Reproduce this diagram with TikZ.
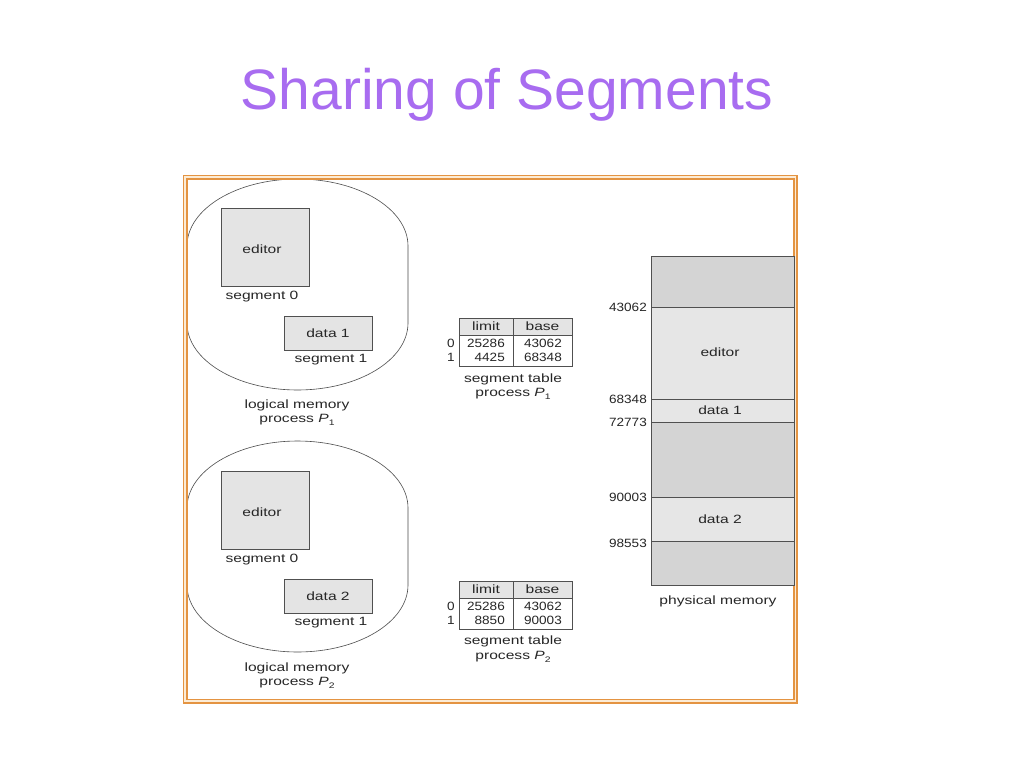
\documentclass[tikz,border=0pt]{standalone}
\usepackage{fontspec}
\setmainfont{Liberation Sans}
\newfontfamily\lab[FakeStretch=1.3]{Liberation Sans}
\newfontfamily\numf[FakeStretch=1.13]{Liberation Sans}
\definecolor{titlecol}{RGB}{168,108,240}
\definecolor{framecol}{RGB}{228,148,66}
\definecolor{framegap}{RGB}{252,236,214}
\definecolor{boxfill}{RGB}{228,228,228}
\definecolor{darkfill}{RGB}{212,212,212}
\definecolor{lightfill}{RGB}{230,230,230}
\definecolor{edgecol}{RGB}{80,80,80}
\newcommand{\subn}[1]{\raisebox{-0.4ex}{\fontsize{8}{8}\selectfont #1}}
\tikzset{
  lbl/.style={inner sep=0pt, font=\lab\fontsize{12}{14}\selectfont, text=black!85},
  numl/.style={inner sep=0pt, font=\numf\fontsize{12}{14}\selectfont, text=black!85},
  segbox/.style={draw=edgecol, line width=0.8pt, fill=boxfill, inner sep=0pt},
  cell/.style={draw=edgecol, line width=0.7pt, inner sep=0pt},
  memreg/.style={draw=edgecol, line width=0.8pt, inner sep=0pt, minimum width=143pt},
  blob/.style={draw=black!70, line width=0.6pt},
}
\begin{document}
\begin{tikzpicture}[x=1pt,y=-1pt]
\useasboundingbox (0,0) rectangle (1024,768);
\fill[white] (0,0) rectangle (1024,768);
% title
\node[font=\fontsize{57}{60}\selectfont, text=titlecol, anchor=base, inner sep=0pt] (title) at (507,109) {Sharing of Segments};
% frame
\fill[framegap] (183.5,175.5) rectangle (797,703);
\fill[white] (187,179) rectangle (794,699.5);
\draw[framecol, line width=1.6pt] (183.5,175.5) rectangle (797,703);

% logical memory blobs (ellipse caps rx=110.5, ry=67, straight sides)
\foreach \dy in {0,262}{
  \begin{scope}[yshift=-\dy pt]
  \draw[blob] (297.5,179) .. controls (358.5,179) and (408,209) .. (408,246)
     -- (408,323)
     .. controls (408,360) and (358.5,390) .. (297.5,390)
     .. controls (236.5,390) and (187,360) .. (187,323)
     -- (187,246)
     .. controls (187,209) and (236.5,179) .. (297.5,179) -- cycle;
  \end{scope}
}
% inner frame line
\draw[framecol, line width=1.6pt] (187,179) rectangle (794,699.5);

% process 1 logical
\node[segbox, minimum width=88pt, minimum height=78pt] (ed1) at (265,247) {};
\node[lbl] (ed1t) at (262,249) {editor};
\node[lbl] (s01) at (262,297) {segment 0};
\node[segbox, minimum width=88pt, minimum height=34pt] (d1) at (328,333) {};
\node[lbl] (d1t) at (328,333) {data 1};
\node[lbl] (s11) at (331,360) {segment 1};
\node[lbl] (lm1) at (297,405) {logical memory};
\node[lbl] (pp1) at (297,420) {process \textit{P}\subn{1}};
% process 2 logical
\node[segbox, minimum width=88pt, minimum height=78pt] (ed2) at (265,510) {};
\node[lbl] (ed2t) at (262,512) {editor};
\node[lbl] (s02) at (262,560) {segment 0};
\node[segbox, minimum width=88pt, minimum height=34pt] (d2) at (328,596) {};
\node[lbl] (d2t) at (328,596) {data 2};
\node[lbl] (s12) at (331,623) {segment 1};
\node[lbl] (lm2) at (297,668) {logical memory};
\node[lbl] (pp2) at (297,683) {process \textit{P}\subn{2}};

% segment table 1
\node[cell, fill=boxfill, minimum width=54pt, minimum height=17pt] (t1l) at (486,326.5) {};
\node[cell, fill=boxfill, minimum width=59pt, minimum height=17pt] (t1b) at (542.5,326.5) {};
\node[cell, fill=white, minimum width=54pt, minimum height=31pt] (t1dl) at (486,350.5) {};
\node[cell, fill=white, minimum width=59pt, minimum height=31pt] (t1dr) at (542.5,350.5) {};
\node[lbl] at (t1l) {limit};
\node[lbl] at (t1b) {base};
\node[numl, anchor=east] (t1a0) at (505,343) {25286};
\node[numl, anchor=east] (t1a1) at (505,357) {4425};
\node[numl, anchor=east] (t1b0) at (562,343) {43062};
\node[numl, anchor=east] (t1b1) at (562,357) {68348};
\node[numl] (t1r0) at (451,343) {0};
\node[numl] (t1r1) at (451,357) {1};
\node[lbl] (st1) at (513,379) {segment table};
\node[lbl] (sp1) at (513,394) {process \textit{P}\subn{1}};

% segment table 2
\node[cell, fill=boxfill, minimum width=54pt, minimum height=17pt] (t2l) at (486,589.5) {};
\node[cell, fill=boxfill, minimum width=59pt, minimum height=17pt] (t2b) at (542.5,589.5) {};
\node[cell, fill=white, minimum width=54pt, minimum height=31pt] (t2dl) at (486,613.5) {};
\node[cell, fill=white, minimum width=59pt, minimum height=31pt] (t2dr) at (542.5,613.5) {};
\node[lbl] at (t2l) {limit};
\node[lbl] at (t2b) {base};
\node[numl, anchor=east] (t2a0) at (505,606) {25286};
\node[numl, anchor=east] (t2a1) at (505,620) {8850};
\node[numl, anchor=east] (t2b0) at (562,606) {43062};
\node[numl, anchor=east] (t2b1) at (562,620) {90003};
\node[numl] (t2r0) at (451,606) {0};
\node[numl] (t2r1) at (451,620) {1};
\node[lbl] (st2) at (513,641) {segment table};
\node[lbl] (sp2) at (513,657) {process \textit{P}\subn{2}};

% physical memory
\node[memreg, fill=darkfill, minimum height=51pt] (m0) at (722.5,281.5) {};
\node[memreg, fill=lightfill, minimum height=92pt] (m1) at (722.5,353) {};
\node[memreg, fill=lightfill, minimum height=23pt] (m2) at (722.5,410.5) {};
\node[memreg, fill=darkfill, minimum height=75pt] (m3) at (722.5,459.5) {};
\node[memreg, fill=lightfill, minimum height=44pt] (m4) at (722.5,519) {};
\node[memreg, fill=darkfill, minimum height=44pt] (m5) at (722.5,563) {};
\node[lbl] at (720,352) {editor};
\node[lbl] at (720,410) {data 1};
\node[lbl] at (720,519) {data 2};
\node[lbl] (pm) at (718,601) {physical memory};
\node[numl, anchor=east] (a1) at (647,307) {43062};
\node[numl, anchor=east] (a2) at (647,399.5) {68348};
\node[numl, anchor=east] (a3) at (647,422.5) {72773};
\node[numl, anchor=east] (a4) at (647,497) {90003};
\node[numl, anchor=east] (a5) at (647,543) {98553};
\end{tikzpicture}
\end{document}
